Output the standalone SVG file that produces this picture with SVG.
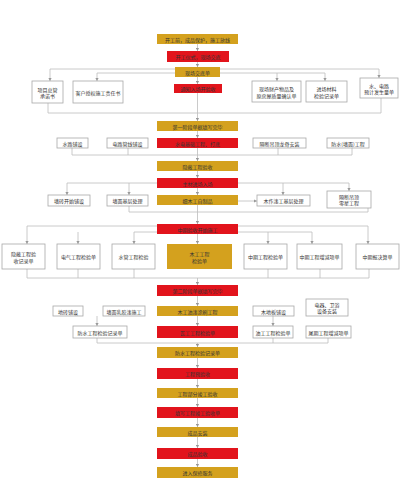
<svg xmlns="http://www.w3.org/2000/svg" width="400" height="490" viewBox="0 0 400 490">
<style>
.g{fill:#D4A11E}
.r{fill:#E2141C}
.w{fill:#fff;stroke:#a8a8a8;stroke-width:0.8}
text{font-family:"Noto Sans CJK SC","Noto Sans",sans-serif;font-size:5px;text-anchor:middle;dominant-baseline:central;fill:#333}
.c path{fill:none;stroke:#bdbdbd;stroke-width:0.8}
</style>
<defs>
<marker id="a" markerWidth="4" markerHeight="4" refX="3" refY="2" orient="auto" markerUnits="userSpaceOnUse">
<path d="M0,0.4 L3,2 L0,3.6 Z" fill="#999"/>
</marker>
</defs>
<rect width="400" height="490" fill="#fff"/>
<g class="c">
<path d="M197.5,44 V51" marker-end="url(#a)"/>
<path d="M197.5,62 V67" marker-end="url(#a)"/>
<path d="M175,69 H50 V81" marker-end="url(#a)"/>
<path d="M175,73 H97 V81" marker-end="url(#a)"/>
<path d="M220,69 H379 V78" marker-end="url(#a)"/>
<path d="M220,73 H325 V81" marker-end="url(#a)"/>
<path d="M277,73 V81" marker-end="url(#a)"/>
<path d="M197.5,77 V84" marker-end="url(#a)"/>
<path d="M48,103 V113 H381 V98"/>
<path d="M197.5,93 V121" marker-end="url(#a)"/>
<path d="M197.5,131 V138" marker-end="url(#a)"/>
<path d="M72,148 V155 H352 V148"/>
<path d="M128,148 V155"/>
<path d="M278,148 V155"/>
<path d="M197.5,148 V161" marker-end="url(#a)"/>
<path d="M197.5,171 V178" marker-end="url(#a)"/>
<path d="M157,183 H67 V195" marker-end="url(#a)"/>
<path d="M129,183 V195" marker-end="url(#a)"/>
<path d="M238,183 H349 V191" marker-end="url(#a)"/>
<path d="M283,183 V195" marker-end="url(#a)"/>
<path d="M197.5,188 V195" marker-end="url(#a)"/>
<path d="M238,201 H257" marker-end="url(#a)"/>
<path d="M129,206 V212 H368 V208"/>
<path d="M197.5,205 V224" marker-end="url(#a)"/>
<path d="M157,226 H27 V244" marker-end="url(#a)"/>
<path d="M157,232 H134 V244" marker-end="url(#a)"/>
<path d="M78,232 V244" marker-end="url(#a)"/>
<path d="M238,226 H368 V244" marker-end="url(#a)"/>
<path d="M238,232 H312 V244" marker-end="url(#a)"/>
<path d="M268,232 V244" marker-end="url(#a)"/>
<path d="M197.5,234 V244" marker-end="url(#a)"/>
<path d="M27,269 V278 H369 V269"/>
<path d="M78,269 V278"/>
<path d="M134,269 V278"/>
<path d="M268,269 V278"/>
<path d="M320,269 V278"/>
<path d="M197.5,278 V285" marker-end="url(#a)"/>
<path d="M197.5,296 V306" marker-end="url(#a)"/>
<path d="M197.5,316 V326" marker-end="url(#a)"/>
<path d="M97,316 V326" marker-end="url(#a)"/>
<path d="M273,316 V326" marker-end="url(#a)"/>
<path d="M97,338 V343 H328 V338"/>
<path d="M273,338 V343"/>
<path d="M197.5,343 V347" marker-end="url(#a)"/>
<path d="M197.5,358 V368" marker-end="url(#a)"/>
<path d="M197.5,379 V388" marker-end="url(#a)"/>
<path d="M197.5,398 V407" marker-end="url(#a)"/>
<path d="M197.5,418 V427" marker-end="url(#a)"/>
<path d="M197.5,437 V448" marker-end="url(#a)"/>
<path d="M197.5,459 V467" marker-end="url(#a)"/>
</g>
<g id="n1"><rect class="g" x="157" y="34" width="81" height="10"/><text x="197.5" y="39">开工前，成品保护，施工放线</text></g>
<g id="n2"><rect class="r" x="167" y="51" width="62" height="11"/><text x="198" y="56.5">开工仪式，现场交底</text></g>
<g id="n3"><rect class="g" x="175" y="67" width="45" height="10"/><text x="197.5" y="72">现场交底单</text></g>
<g id="n4"><rect class="w" x="32" y="81" width="31" height="22"/><text x="47.5" y="89">项目总管</text><text x="47.5" y="95.5">承诺书</text></g>
<g id="n5"><rect class="w" x="73" y="81" width="50" height="22"/><text x="98" y="92">客户授权施工责任书</text></g>
<g id="n6"><rect class="r" x="174" y="84" width="48" height="9"/><text x="198" y="88.5">通知入场开验收</text></g>
<g id="n7"><rect class="w" x="252" y="81" width="49" height="21"/><text x="276.5" y="88.5">现场财产物品及</text><text x="276.5" y="95">原房屋质量确认单</text></g>
<g id="n8"><rect class="w" x="306" y="81" width="41" height="21"/><text x="326.5" y="88.5">进场材料</text><text x="326.5" y="95">检验记录单</text></g>
<g id="n9"><rect class="w" x="360" y="78" width="38" height="20"/><text x="379" y="85">水、电路</text><text x="379" y="91.5">预计发生量单</text></g>
<g id="n10"><rect class="g" x="157" y="121" width="81" height="10"/><text x="197.5" y="126">第一阶段单据填写完毕</text></g>
<g id="n11"><rect class="r" x="157" y="138" width="81" height="10"/><text x="197.5" y="143">水电基础工程、打底</text></g>
<g id="n12"><rect class="w" x="57" y="138" width="31" height="10"/><text x="72.5" y="143">水路铺设</text></g>
<g id="n13"><rect class="w" x="107" y="138" width="41" height="10"/><text x="127.5" y="143">电路管线铺设</text></g>
<g id="n14"><rect class="w" x="253" y="138" width="53" height="10"/><text x="279.5" y="143">隔断吊顶龙骨安装</text></g>
<g id="n15"><rect class="w" x="327" y="138" width="42" height="10"/><text x="348" y="143">防水(墙面)工程</text></g>
<g id="n16"><rect class="g" x="157" y="161" width="81" height="10"/><text x="197.5" y="166">隐蔽工程验收</text></g>
<g id="n17"><rect class="r" x="157" y="178" width="81" height="10"/><text x="197.5" y="183">主材进场入场</text></g>
<g id="n18"><rect class="w" x="48" y="195" width="42" height="11"/><text x="69" y="200.5">墙砖开始铺设</text></g>
<g id="n19"><rect class="w" x="107" y="195" width="41" height="11"/><text x="127.5" y="200.5">墙面基层处理</text></g>
<g id="n20"><rect class="g" x="157" y="195" width="81" height="10"/><text x="197.5" y="200">细木工自制品</text></g>
<g id="n21"><rect class="w" x="257" y="195" width="53" height="11"/><text x="283.5" y="200.5">木作漆工基层处理</text></g>
<g id="n22"><rect class="w" x="327" y="191" width="44" height="17"/><text x="349" y="196.5">隔断吊顶</text><text x="349" y="202.5">零星工程</text></g>
<g id="n23"><rect class="r" x="157" y="224" width="81" height="10"/><text x="197.5" y="229">中期验收开始施工</text></g>
<g id="n24"><rect class="w" x="2" y="244" width="43" height="25"/><text x="23.5" y="253.5">隐蔽工程验</text><text x="23.5" y="260">收记录单</text></g>
<g id="n25"><rect class="w" x="57" y="244" width="43" height="25"/><text x="78.5" y="256.5">电气工程检验单</text></g>
<g id="n26"><rect class="w" x="112" y="244" width="43" height="25"/><text x="133.5" y="256.5">水管工程检验</text></g>
<g id="n27"><rect class="g" x="167" y="244" width="65" height="25"/><text x="199.5" y="253.5">木工工程</text><text x="199.5" y="260">检验单</text></g>
<g id="n28"><rect class="w" x="244" y="244" width="43" height="25"/><text x="265.5" y="256.5">中期工程检验单</text></g>
<g id="n29"><rect class="w" x="297" y="244" width="45" height="25"/><text x="319.5" y="256.5">中期工程增减项单</text></g>
<g id="n30"><rect class="w" x="356" y="244" width="43" height="25"/><text x="377.5" y="256.5">中期报决算单</text></g>
<g id="n31"><rect class="r" x="157" y="285" width="81" height="11"/><text x="197.5" y="290.5">第二阶段单据填写完毕</text></g>
<g id="n32"><rect class="g" x="157" y="306" width="81" height="10"/><text x="197.5" y="311">木工油漆涂刷工程</text></g>
<g id="n33"><rect class="w" x="53" y="306" width="30" height="10"/><text x="68" y="311">地砖铺设</text></g>
<g id="n34"><rect class="w" x="103" y="306" width="42" height="10"/><text x="124" y="311">墙面乳胶漆施工</text></g>
<g id="n35"><rect class="w" x="253" y="306" width="41" height="10"/><text x="273.5" y="311">木地板铺设</text></g>
<g id="n36"><rect class="w" x="306" y="299" width="42" height="17"/><text x="327" y="304.5">电器、卫浴</text><text x="327" y="310.5">设备安装</text></g>
<g id="n37"><rect class="r" x="157" y="326" width="81" height="12"/><text x="197.5" y="332">瓦工工程检验单</text></g>
<g id="n38"><rect class="w" x="73" y="326" width="54" height="12"/><text x="100" y="332">防水工程检验记录单</text></g>
<g id="n39"><rect class="w" x="253" y="326" width="40" height="12"/><text x="273" y="332">油工工程检验单</text></g>
<g id="n40"><rect class="w" x="306" y="326" width="45" height="12"/><text x="328.5" y="332">尾期工程增减项单</text></g>
<g id="n41"><rect class="g" x="157" y="347" width="81" height="11"/><text x="197.5" y="352.5">防水工程检验记录单</text></g>
<g id="n42"><rect class="r" x="157" y="368" width="81" height="11"/><text x="197.5" y="373.5">工程预验收</text></g>
<g id="n43"><rect class="g" x="157" y="388" width="81" height="10"/><text x="197.5" y="393">工程部分竣工验收</text></g>
<g id="n44"><rect class="r" x="157" y="407" width="81" height="11"/><text x="197.5" y="412.5">填写工程竣工验收单</text></g>
<g id="n45"><rect class="g" x="157" y="427" width="81" height="10"/><text x="197.5" y="432">成品安装</text></g>
<g id="n46"><rect class="r" x="157" y="448" width="81" height="11"/><text x="197.5" y="453.5">成品验收</text></g>
<g id="n47"><rect class="g" x="157" y="467" width="81" height="11"/><text x="197.5" y="472.5">进入保修服务</text></g>
</svg>
